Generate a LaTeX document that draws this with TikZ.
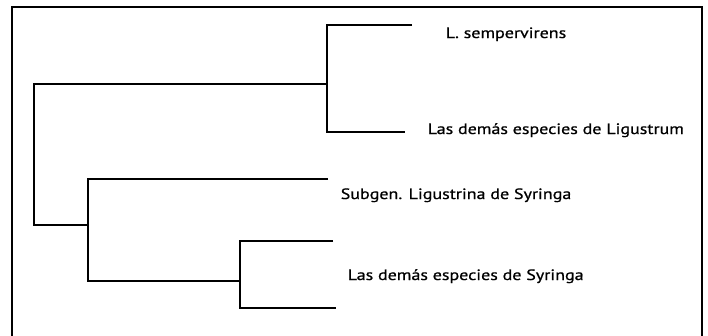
\documentclass[tikz,border=0pt]{standalone}
\usepackage{fontspec}
\setmainfont{PT Sans}[FakeStretch=1.2, FakeBold=0.8]
\usetikzlibrary{positioning}

\begin{document}
\begin{tikzpicture}[x=1pt, y=-1pt, line width=1.5pt,
	taxon/.style={anchor=base west, inner sep=0pt, font=\fontsize{15}{17}\selectfont}]
	\useasboundingbox (0,0) rectangle (708,335);
	\draw[line width=2pt] (12,345) -- (12,7) -- (702,7) -- (702,345);

	% junctions
	\coordinate (r1) at (34,84);
	\coordinate (r2) at (34,225);
	\coordinate (lig) at (327,84);
	\coordinate (syr) at (88,225);
	\coordinate (syr2) at (240,281);

	% leaf ends
	\coordinate (l1) at (412,25);
	\coordinate (l2) at (405,132);
	\coordinate (l3) at (328,179);
	\coordinate (l4) at (333,241);
	\coordinate (l5) at (336,308);

	\node[taxon] (sem) at (445,38) {L. sempervirens};
	\node[taxon] (lgs) at (427,134) {Las demás especies de Ligustrum};
	\node[taxon] (sub) at (340,199) {Subgen. Ligustrina de Syringa};
	\node[taxon] (srg) at (347,280) {Las demás especies de Syringa};

	\draw (lig) -- (r1) -- (r2) -- (syr);
	\draw (l1) -- (l1 -| lig) -- (l2 -| lig) -- (l2);
	\draw (l3) -- (l3 -| syr) -- (syr2 -| syr) -- (syr2);
	\draw (l4) -- (l4 -| syr2) -- (l5 -| syr2) -- (l5);
\end{tikzpicture}
\end{document}
